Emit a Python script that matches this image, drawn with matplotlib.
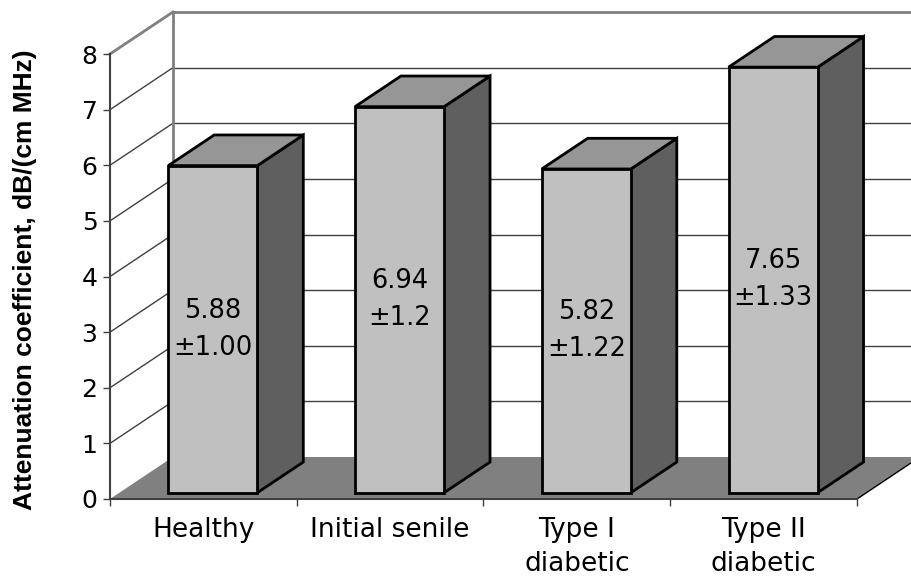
import matplotlib
matplotlib.use('Agg')
import matplotlib.pyplot as plt
from matplotlib.patches import Polygon

plt.rcParams['font.family'] = ['DejaVu Sans']

# Data
categories = ['Healthy', 'Initial senile', 'Type I\ndiabetic', 'Type II\ndiabetic']
means = [5.88, 6.94, 5.82, 7.65]
sds = ['1.00', '1.2', '1.22', '1.33']
y_ticks = [0, 1, 2, 3, 4, 5, 6, 7, 8]

# Colours for the fake 3D look
FRONT = '#c0c0c0'
TOP = '#969696'
SIDE = '#5f5f5f'
FLOOR = '#808080'

# Depth of the 3D box in data units and where the bars sit in it
DX, DY = 0.337, 0.755
F0, F1 = 0.15, 0.88
HALF_W = 0.2385

fig = plt.figure(figsize=(9.12, 5.8), dpi=100)
ax = fig.add_axes([110 / 912, 81 / 580, 747 / 912, 445 / 580])
ax.set_xlim(0, len(categories))
ax.set_ylim(0, 8)
n = len(categories)

# Floor
floor = Polygon([(0, 0), (n, 0), (n + DX, DY), (DX, DY)], closed=True,
                facecolor=FLOOR, edgecolor='none', zorder=1, clip_on=False)
ax.add_patch(floor)
ax.plot([n, n + DX], [0, DY], color='black', lw=1, zorder=1.5, clip_on=False)

# Back wall grid and left wall lines
for v in y_ticks:
    if v == 0:
        continue
    col = '#808080' if v == 8 else '#404040'
    lw = 2 if v == 8 else 1
    ax.plot([DX, n + DX + 0.5], [v + DY, v + DY], color=col, lw=lw, zorder=1.2, clip_on=False)
    ax.plot([0, DX], [v, v + DY], color=col, lw=lw, zorder=1.2, clip_on=False)
ax.plot([DX, DX], [DY, 8 + DY], color='#808080', lw=2, zorder=1.2, clip_on=False)

# Bars
for i, (m, sd) in enumerate(zip(means, sds)):
    c = i + 0.5
    a0, b0 = F0 * DX, F0 * DY
    a1, b1 = F1 * DX, F1 * DY
    xl, xr = c - HALF_W, c + HALF_W
    side = [(xr + a0, b0), (xr + a1, b1), (xr + a1, m + b1), (xr + a0, m + b0)]
    top = [(xl + a0, m + b0), (xr + a0, m + b0), (xr + a1, m + b1), (xl + a1, m + b1)]
    front = [(xl + a0, b0), (xr + a0, b0), (xr + a0, m + b0), (xl + a0, m + b0)]
    for pts, fc in [(side, SIDE), (top, TOP), (front, FRONT)]:
        ax.add_patch(Polygon(pts, closed=True, facecolor=fc, edgecolor='black',
                             lw=2, joinstyle='miter', zorder=3, clip_on=False))
    ax.text(c + a0, b0 + m / 2, f'{m:.2f}\n\u00b1{sd}', ha='center', va='center',
            fontsize=18.5, linespacing=1.55, zorder=4)

# Axes: front left and bottom spines
for s in ['top', 'right']:
    ax.spines[s].set_visible(False)
ax.spines['left'].set_color('#404040')
ax.spines['left'].set_linewidth(1.5)
ax.spines['bottom'].set_color('#404040')
ax.spines['bottom'].set_linewidth(1.5)
ax.spines['left'].set_zorder(2)
ax.spines['bottom'].set_zorder(2)
ax.patch.set_visible(False)

ax.set_yticks(y_ticks)
ax.set_yticklabels([str(t) for t in y_ticks])
ax.tick_params(axis='y', direction='out', length=5, width=1, color='#404040',
               labelsize=18, pad=4)
ax.set_xticks(range(n + 1))
ax.set_xticklabels([])
ax.tick_params(axis='x', which='major', direction='out', length=5, width=1, color='#404040')
ax.set_xticks([i + 0.5 for i in range(n)], minor=True)
ax.set_xticklabels(categories, minor=True, fontsize=19, linespacing=1.4)
ax.tick_params(axis='x', which='minor', length=0, pad=13)

fig.text(25 / 912, 1 - 280 / 580, 'Attenuation coefficient, dB/(cm MHz)',
         rotation=90, ha='center', va='center', fontsize=19,
         fontweight='bold', family='Liberation Sans')

fig.savefig('out.png', dpi=100)
